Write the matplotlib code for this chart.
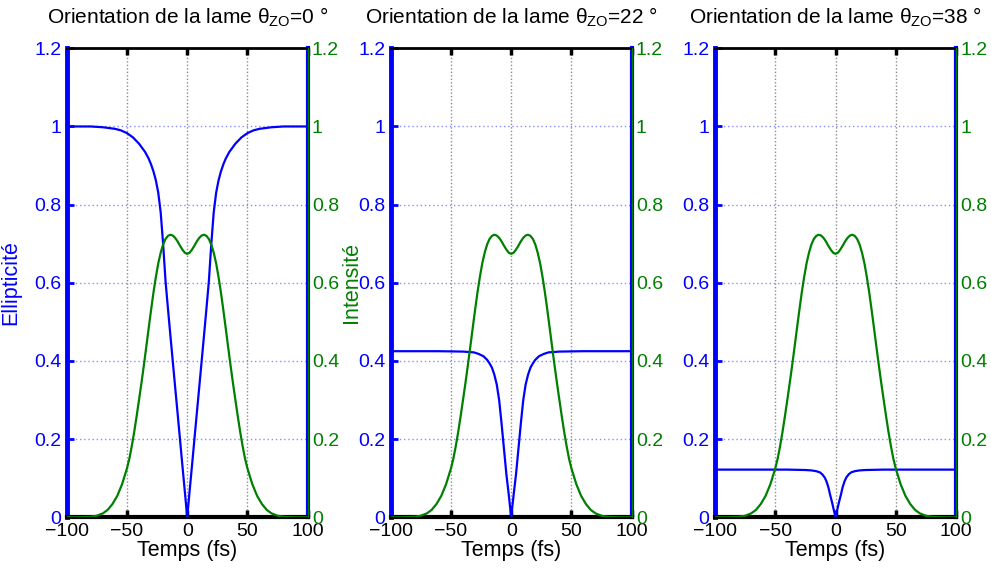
import matplotlib
matplotlib.use('Agg')
import matplotlib.pyplot as plt

plt.rcParams['font.family'] = ['Liberation Sans', 'DejaVu Sans']
plt.rcParams['mathtext.fontset'] = 'custom'
plt.rcParams['mathtext.rm'] = 'Liberation Sans'
plt.rcParams['mathtext.it'] = 'Liberation Sans:italic'
plt.rcParams['mathtext.bf'] = 'Liberation Sans:bold'
plt.rcParams['axes.unicode_minus'] = True

# ---------------- data ----------------
ANGLES = [0, 22, 38]

T_GREEN = [-100, -90, -80, -75, -70, -66, -62, -58, -54, -50,
           -48, -46, -44, -42, -40, -38, -36, -34, -32, -30, -28, -26, -24, -22,
           -20, -18, -16, -14, -12, -10, -8, -6, -4, -2,
           0,
           2, 4, 6, 8, 10, 12, 14, 16, 18, 20, 22, 24, 26, 28, 30, 32, 34, 36, 38,
           40, 42, 44, 46, 48,
           50, 54, 58, 62, 66, 70, 75, 80, 90, 100]
GREEN = [0.0, 0.0, 0.0015, 0.004, 0.010, 0.019, 0.034, 0.055, 0.085, 0.125,
         0.150, 0.182, 0.218, 0.258, 0.300, 0.343, 0.388, 0.435, 0.483, 0.530,
         0.575, 0.615, 0.650, 0.677, 0.698, 0.712, 0.720, 0.723, 0.721, 0.715,
         0.706, 0.695, 0.685, 0.677,
         0.674,
         0.677, 0.685, 0.695, 0.706, 0.715, 0.721, 0.723, 0.720, 0.712, 0.698,
         0.677, 0.650, 0.615, 0.575, 0.530, 0.483, 0.435, 0.388, 0.343, 0.300,
         0.258, 0.218, 0.182, 0.150,
         0.125, 0.085, 0.055, 0.034, 0.019, 0.010, 0.004, 0.0015, 0.0, 0.0]

T_BLUE1 = [-100, -80, -70, -60, -55, -50, -45, -40, -35, -32, -30, -28, -26,
           -24, -22, -20, -18, -16, -14, -12, -10, -8, -6, -4, -2,
           0,
           2, 4, 6, 8, 10, 12, 14, 16, 18, 20, 22, 24,
           26, 28, 30, 32, 35, 40, 45, 50, 55, 60, 70, 80, 100]
BLUE1 = [1.0, 1.0, 0.998, 0.994, 0.990, 0.983, 0.972, 0.956, 0.935, 0.918,
         0.903, 0.885, 0.862, 0.830, 0.780, 0.700, 0.605, 0.535, 0.467, 0.400,
         0.333, 0.267, 0.200, 0.133, 0.067,
         0.0,
         0.067, 0.133, 0.200, 0.267, 0.333, 0.400, 0.467, 0.535, 0.605, 0.700,
         0.780, 0.830, 0.862, 0.885, 0.903, 0.918, 0.935, 0.956, 0.972, 0.983,
         0.990, 0.994, 0.998, 1.0, 1.0]

T_BLUE2 = [-100, -60, -40, -31, -27, -23, -20, -18, -16, -14, -12, -10, -8,
           -6, -4, -2,
           0,
           2, 4, 6, 8, 10, 12, 14, 16, 18, 20, 23, 27, 31, 40, 60, 100]
BLUE2 = [0.425, 0.425, 0.424, 0.422, 0.418, 0.412, 0.403, 0.394, 0.383,
         0.365, 0.340, 0.300, 0.240, 0.175, 0.110, 0.057,
         0.0,
         0.057, 0.110, 0.175, 0.240, 0.300, 0.340, 0.365, 0.383, 0.394, 0.403,
         0.412, 0.418, 0.422, 0.424, 0.425, 0.425]

T_BLUE3 = [-100, -40, -25, -20, -16, -13, -11, -9, -7.5, -6, -4.5, -3, -1.5,
           0,
           1.5, 3, 4.5, 6, 7.5, 9, 11, 13, 16, 20, 25, 40, 100]
BLUE3 = [0.122, 0.122, 0.121, 0.120, 0.118, 0.115, 0.110, 0.102, 0.092,
         0.078, 0.058, 0.040, 0.020,
         0.0,
         0.020, 0.040, 0.058, 0.078, 0.092, 0.102, 0.110, 0.115, 0.118, 0.120,
         0.121, 0.122, 0.122]

T_BLUE = [T_BLUE1, T_BLUE2, T_BLUE3]
BLUE = [BLUE1, BLUE2, BLUE3]

X_TICKS = [-100, -50, 0, 50, 100]
Y_TICKS = [0, 0.2, 0.4, 0.6, 0.8, 1.0, 1.2]
Y_TICK_LABELS = ['0', '0.2', '0.4', '0.6', '0.8', '1', '1.2']

# ---------------- figure ----------------
BLUE_C = (0, 0, 1)
GREEN_C = (0, 0.5, 0)
W, H = 991, 568
fig = plt.figure(figsize=(W / 100, H / 100), dpi=100)

lefts = [66.7, 390.7, 715.0]
ax_w, ax_h = 241.0, 469.0
bottom_px = 517.3

for i in range(3):
    ax = fig.add_axes([lefts[i] / W, (H - bottom_px) / H, ax_w / W, ax_h / H])
    ax.plot(T_BLUE[i], BLUE[i], color=BLUE_C, lw=1.6, zorder=3)
    ax.set_xlim(-100, 100)
    ax.set_ylim(0, 1.2)
    ax.set_xticks(X_TICKS)
    ax.set_xticklabels([str(v).replace('-', '\u2212') for v in X_TICKS])
    ax.set_yticks(Y_TICKS)
    ax.set_yticklabels(Y_TICK_LABELS)
    ax.tick_params(axis='x', direction='in', length=5, width=2.5, colors='k',
                   top=True, labelsize=14, pad=4)
    ax.tick_params(axis='y', direction='in', length=5, width=2.0, colors=BLUE_C,
                   right=True, labelsize=14, pad=4)
    ax.grid(axis='y', color=(0.55, 0.55, 1.0), linestyle=(0, (1, 2)), lw=1.0)
    ax.grid(axis='x', color=(0.55, 0.55, 0.55), linestyle=(0, (1, 1.5)), lw=1.0)
    ax.spines['left'].set_color(BLUE_C)
    ax.spines['left'].set_linewidth(3.5)
    ax.spines['right'].set_color(BLUE_C)
    ax.spines['right'].set_linewidth(3.0)
    ax.spines['bottom'].set_color('k')
    ax.spines['bottom'].set_linewidth(3.0)
    ax.spines['top'].set_color('k')
    ax.spines['top'].set_linewidth(2.0)
    ax.set_xlabel('Temps (fs)', fontsize=15.5, labelpad=0)
    ax.text(0.5, 1.052, r'Orientation de la lame θ$_{\mathregular{ZO}}$=%d °' % ANGLES[i],
            transform=ax.transAxes, ha='center', va='baseline', fontsize=15)

    ax2 = ax.twinx()
    ax2.plot(T_GREEN, GREEN, color=GREEN_C, lw=1.6, zorder=3)
    ax2.set_ylim(0, 1.2)
    ax2.set_yticks(Y_TICKS)
    ax2.set_yticklabels(Y_TICK_LABELS)
    ax2.tick_params(axis='y', direction='in', length=0, width=2.0, colors=GREEN_C,
                    labelsize=14, pad=3)
    for s in ['left', 'top', 'bottom']:
        ax2.spines[s].set_visible(False)
    ax2.spines['right'].set_color(GREEN_C)
    ax2.spines['right'].set_linewidth(0.8)

    if i == 0:
        ax.set_ylabel('Ellipticité', color=BLUE_C, fontsize=15.5, labelpad=9)
        ax2.set_ylabel('Intensité', color=GREEN_C, fontsize=15.5, labelpad=1)

fig.savefig('out.png', dpi=100)
